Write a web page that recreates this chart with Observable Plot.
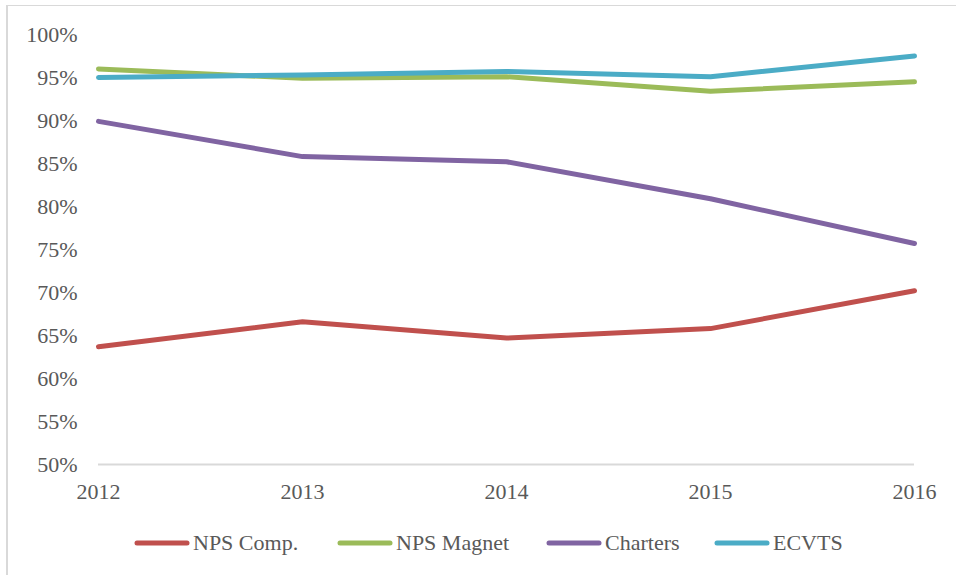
<!DOCTYPE html>
<html>
<head>
<meta charset="utf-8">
<script src="https://cdn.jsdelivr.net/npm/d3@7"></script>
<script src="https://cdn.jsdelivr.net/npm/@observablehq/plot@0.6"></script>
<style>
  html, body { margin: 0; padding: 0; background: #fff; }
  #wrap { position: relative; width: 956px; height: 575px; overflow: hidden; font-family: "Liberation Serif", "DejaVu Serif", "Noto Serif", Tinos, "Times New Roman", Times, serif; }
  #frame { position: absolute; left: 6px; top: 5px; width: 1000px; height: 1000px; border-left: 2px solid #d9d9d9; border-top: 1.5px solid #d9d9d9; box-sizing: border-box; }
  #chart { position: absolute; left: 0; top: 0; }
  #chart svg, #chart svg text { font-family: "Liberation Serif", "DejaVu Serif", "Noto Serif", Tinos, "Times New Roman", Times, serif !important; }
  #legend { position: absolute; left: 0; top: 528px; width: 956px; height: 30px; color: #595959; font-size: 22px; }
  .item { position: absolute; top: 0; display: flex; align-items: center; height: 30px; white-space: nowrap; }
  .item svg { margin-right: 2px; }
</style>
</head>
<body>
<div id="wrap">
  <div id="frame"></div>
  <div id="chart"></div>
  <div id="legend"></div>
</div>
<script>
const years = [2012, 2013, 2014, 2015, 2016];
const seriesNames = ["NPS Comp.", "NPS Magnet", "Charters", "ECVTS"];
const seriesColors = ["#c0504d", "#9bbb59", "#8064a2", "#4bacc6"];
const npsComp   = [63.7, 66.6, 64.7, 65.8, 70.2];
const npsMagnet = [96.0, 94.9, 95.1, 93.4, 94.5];
const charters  = [89.9, 85.8, 85.2, 80.9, 75.7];
const ecvts     = [95.0, 95.3, 95.7, 95.1, 97.5];
const yTicks = [50, 55, 60, 65, 70, 75, 80, 85, 90, 95, 100];

const allSeries = [npsComp, npsMagnet, charters, ecvts];
const data = [];
allSeries.forEach((vals, i) => {
  vals.forEach((v, j) => data.push({series: seriesNames[i], year: years[j], value: v}));
});

const chart = Plot.plot({
  width: 956,
  height: 520,
  marginLeft: 98,
  marginRight: 42,
  marginTop: 34,
  marginBottom: 56,
  style: { fontSize: "22px", color: "#595959", background: "transparent" },
  x: { type: "point", domain: years, padding: 0, label: null },
  y: { domain: [50, 100], label: null },
  color: { domain: seriesNames, range: seriesColors },
  marks: [
    Plot.axisY({ ticks: yTicks, tickFormat: d => d + "%", tickSize: 0, tickPadding: 21, fill: "#595959", label: null }),
    Plot.axisX({ ticks: years, tickFormat: d => String(d), tickSize: 0, tickPadding: 19, fill: "#595959", label: null }),
    Plot.ruleY([50], { stroke: "#d9d9d9", strokeWidth: 2 }),
    Plot.line(data, { x: "year", y: "value", z: "series", stroke: "series", strokeWidth: 5, strokeLinejoin: "round", strokeLinecap: "round" })
  ]
});
document.getElementById("chart").appendChild(chart);

const legendLeft = [134, 337, 546, 714];
const legend = document.getElementById("legend");
seriesNames.forEach((name, i) => {
  const item = document.createElement("div");
  item.className = "item";
  item.style.left = legendLeft[i] + "px";
  item.innerHTML = `<svg width="57" height="10"><line x1="3" y1="5" x2="53" y2="5" stroke="${seriesColors[i]}" stroke-width="5" stroke-linecap="round"/></svg><span>${name}</span>`;
  legend.appendChild(item);
});
</script>
</body>
</html>
